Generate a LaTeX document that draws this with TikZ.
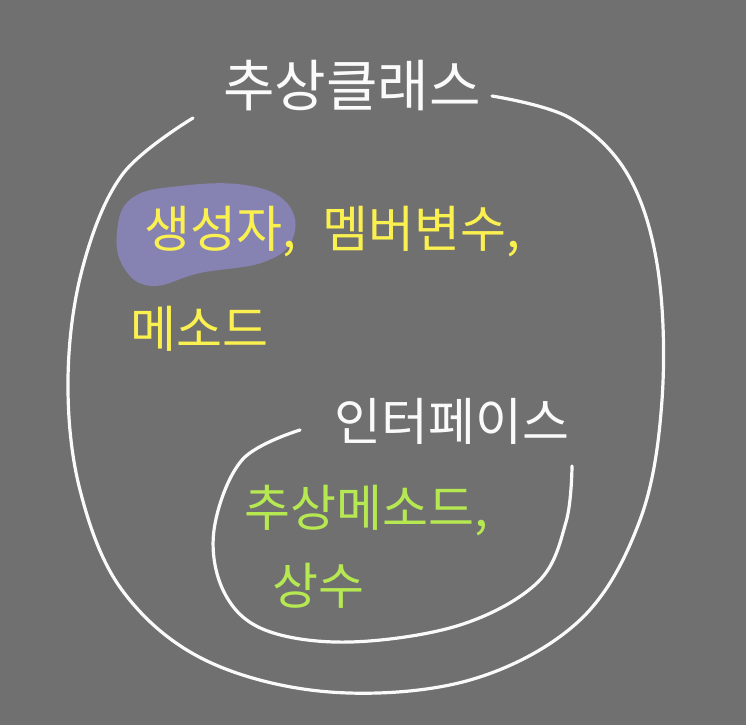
\documentclass[tikz,border=0pt]{standalone}
\usepackage{fontspec}
\newfontfamily\hanfont{Noto Sans CJK KR}
\usepackage{tikz}
\usetikzlibrary{positioning}
\definecolor{boardgray}{RGB}{112,112,112}
\definecolor{chalkwhite}{RGB}{250,250,250}
\definecolor{markyellow}{RGB}{250,240,80}
\definecolor{markgreen}{RGB}{182,232,82}
\definecolor{blobpurple}{RGB}{134,130,178}

\begin{document}
\begin{tikzpicture}[x=1pt, y=-1pt,
  loopline/.style={chalkwhite, line width=3.2pt, line cap=round, line join=round},
  titletext/.style={chalkwhite, font=\hanfont\fontsize{56}{64}\selectfont, inner sep=0pt},
  membertext/.style={markyellow, font=\hanfont\fontsize{50}{58}\selectfont, inner sep=0pt},
  ifacetext/.style={markgreen, font=\hanfont\fontsize{50}{58}\selectfont, inner sep=0pt}]

% Board
\fill[boardgray] (0,0) rectangle (746,725);
\useasboundingbox (0,0) rectangle (746,725);

% Highlight behind the constructor
\fill[blobpurple] plot[smooth cycle, tension=0.7] coordinates
  {(132,198) (180,186) (245,185) (287,203) (293,238) (264,262) (200,273) (152,286) (124,268) (117,232)};

% Outer loop (abstract class)
\draw[loopline] plot[smooth, tension=0.6] coordinates
  {(193,118) (122,175) (82,270) (68,380) (80,490) (122,590) (205,660) (330,692)
   (470,680) (580,620) (640,520) (662,400) (658,270) (628,175) (570,118) (492,96)};

% Inner loop (interface)
\draw[loopline] plot[smooth, tension=0.6] coordinates
  {(300,430) (242,460) (214,530) (224,592) (265,630) (350,642) (460,625)
   (538,582) (566,522) (572,466)};

% Labels
\node[titletext] (abstract) at (352,86) {추상클래스};
\node[membertext] (ctor) at (220,232) {생성자,};
\node[membertext, right=26pt of ctor] (fields) {멤버변수,};
\node[membertext] (methods) at (199,329) {메소드};
\node[titletext, font=\hanfont\fontsize{51}{58}\selectfont] (iface) at (452,421) {인터페이스};
\node[ifacetext] (absmethods) at (366,511) {추상메소드,};
\node[ifacetext] (consts) at (318,586) {상수};

\end{tikzpicture}
\end{document}
